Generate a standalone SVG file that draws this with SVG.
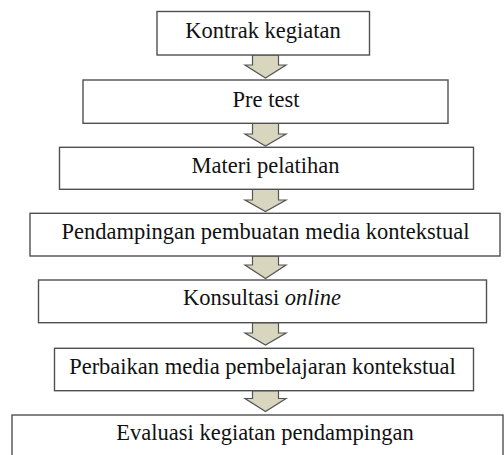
<svg xmlns="http://www.w3.org/2000/svg" width="504" height="455" viewBox="0 0 504 455">
<defs>
<style>
.box{fill:#ffffff;stroke:#505050;stroke-width:1.4}
.arr{fill:#d8d6bf;stroke:#555555;stroke-width:1.2;stroke-linejoin:miter}
.lbl{font-family:"Liberation Serif","Times New Roman",serif;font-size:22.5px;fill:#111111;text-anchor:middle}
</style>
</defs>
<rect width="504" height="455" fill="#ffffff"/>
<g id="connectors">
<path class="arr" d="M252.5,55 H278.5 V65 H286 L265.5,78 L245,65 H252.5 Z"/>
<path class="arr" d="M252.5,123.3 H278.5 V134 H286 L265.5,146 L245,134 H252.5 Z"/>
<path class="arr" d="M252.5,189.3 H278.5 V200 H286 L265.5,211.5 L245,200 H252.5 Z"/>
<path class="arr" d="M252.5,256 H278.5 V265 H286 L265.5,278.5 L245,265 H252.5 Z"/>
<path class="arr" d="M252.5,322.7 H278.5 V333 H286 L265.5,345 L245,333 H252.5 Z"/>
<path class="arr" d="M252.5,390.7 H278.5 V398.5 H286 L265.5,411.5 L245,398.5 H252.5 Z"/>
</g>
<g id="n1">
<rect class="box" x="157" y="11.5" width="212.5" height="43.5"/>
<text class="lbl" x="263" y="37.5">Kontrak kegiatan</text>
</g>
<g id="n2">
<rect class="box" x="83" y="80" width="365" height="43.3"/>
<text class="lbl" x="266" y="106.5">Pre test</text>
</g>
<g id="n3">
<rect class="box" x="59.5" y="147.3" width="414" height="42"/>
<text class="lbl" x="265.5" y="172.5">Materi pelatihan</text>
</g>
<g id="n4">
<rect class="box" x="30" y="213.3" width="470" height="42.7"/>
<text class="lbl" x="265.5" y="238.5">Pendampingan pembuatan media kontekstual</text>
</g>
<g id="n5">
<rect class="box" x="38.5" y="280" width="448" height="42.7"/>
<text class="lbl" x="262" y="305">Konsultasi <tspan font-style="italic">online</tspan></text>
</g>
<g id="n6">
<rect class="box" x="54.5" y="348.3" width="419" height="42.4"/>
<text class="lbl" x="262.5" y="373.5">Perbaikan media pembelajaran kontekstual</text>
</g>
<g id="n7">
<rect class="box" x="12" y="415" width="491" height="60"/>
<text class="lbl" x="265" y="440">Evaluasi kegiatan pendampingan</text>
</g>
</svg>
